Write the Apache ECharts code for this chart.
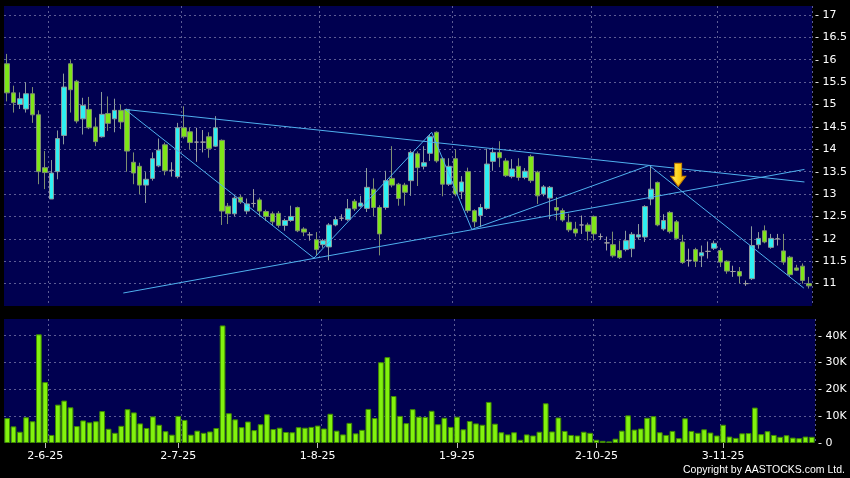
<!DOCTYPE html>
<html>
<head>
<meta charset="utf-8">
<title>日K线图</title>
<script src="https://cdn.jsdelivr.net/npm/echarts@6/dist/echarts.min.js"></script>
<style>
  html, body { margin: 0; padding: 0; background: #000; }
  #chart { width: 850px; height: 478px; }
</style>
</head>
<body>
<div id="chart"></div>
<script>
// 日K: [open, close, low, high]
const candles = [
  [15.91,15.26,15.07,16.13],[15.26,15.04,14.82,15.42],[15.00,15.13,14.90,15.27],[14.90,15.24,14.82,15.50],
  [15.24,14.77,14.59,15.39],[14.77,13.50,13.22,14.87],[13.59,13.48,13.11,13.96],[12.89,13.47,12.89,13.76],
  [13.50,14.24,13.33,14.42],[14.31,15.39,14.11,15.69],[15.91,15.33,14.82,15.99],[15.52,14.63,14.58,15.55],
  [14.68,14.98,14.33,15.15],[14.89,14.48,14.45,15.17],[14.50,14.17,14.07,14.71],[14.28,14.78,14.26,15.28],
  [14.80,14.58,14.41,15.18],[14.68,14.87,14.38,15.13],[14.87,14.61,14.45,15.00],[14.89,13.96,13.50,14.91],
  [13.71,13.47,13.22,13.93],[13.62,13.20,13.00,13.70],[13.20,13.33,12.80,13.49],[13.35,13.79,13.30,13.93],
  [13.63,13.98,13.60,14.24],[14.10,13.52,13.42,14.15],[13.53,13.53,13.39,13.71],[13.39,14.48,13.35,14.59],
  [14.48,14.28,14.24,14.96],[14.39,14.15,14.00,14.48],[14.16,14.16,13.72,14.48],[14.16,14.16,13.93,14.43],
  [14.28,14.02,13.81,14.38],[14.07,14.48,14.05,14.74],[14.20,12.62,12.31,14.22],[12.73,12.56,12.33,12.80],
  [12.56,12.91,12.50,12.95],[12.93,12.82,12.78,12.98],[12.62,12.78,12.55,12.90],[12.79,12.79,12.70,13.11],
  [12.87,12.62,12.50,12.92],[12.61,12.50,12.40,12.65],[12.56,12.38,12.30,12.61],[12.57,12.30,12.25,12.62],
  [12.30,12.41,12.18,12.45],[12.41,12.50,12.38,12.74],[12.70,12.18,12.15,12.72],[12.22,12.15,12.06,12.26],
  [12.09,12.09,11.96,12.15],[11.98,11.76,11.63,12.15],[11.87,11.96,11.80,12.00],[11.82,12.31,11.52,12.35],
  [12.31,12.43,12.28,12.50],[12.46,12.46,12.40,12.55],[12.43,12.67,12.40,12.89],[12.84,12.67,12.62,12.89],
  [12.73,12.80,12.70,12.96],[12.68,13.15,12.60,13.58],[13.11,12.70,12.50,13.35],[12.70,12.11,11.63,12.75],
  [12.70,13.30,12.65,13.52],[13.35,13.20,13.15,14.07],[13.22,12.90,12.74,13.25],[13.20,13.04,12.74,13.25],
  [13.30,13.93,12.96,13.97],[13.90,13.59,13.18,13.95],[13.62,13.70,13.55,14.07],[13.91,14.28,13.74,14.33],
  [14.38,13.74,13.70,14.40],[13.79,13.22,12.95,13.82],[13.22,13.62,13.18,13.80],[13.79,13.00,12.95,14.00],
  [13.05,13.27,12.89,13.40],[13.50,12.63,12.58,13.59],[12.63,12.38,12.26,12.66],[12.52,12.70,12.26,12.78],
  [12.68,13.67,12.65,14.01],[13.73,13.93,13.52,14.04],[13.93,13.81,13.60,14.18],[13.74,13.41,13.38,13.80],
  [13.39,13.56,13.35,13.78],[13.62,13.37,13.30,13.80],[13.37,13.51,13.33,13.58],[13.84,13.30,13.25,13.88],
  [13.49,12.96,12.78,13.52],[13.00,13.16,12.95,13.20],[12.91,13.15,12.44,13.18],[12.70,12.64,12.41,12.93],
  [12.63,12.42,12.38,12.68],[12.37,12.20,12.15,12.56],[12.22,12.13,12.05,12.38],[12.31,12.31,12.11,12.52],
  [12.31,12.17,11.96,12.36],[12.50,12.11,11.96,12.52],[12.05,12.05,11.98,12.12],[11.91,11.91,11.74,12.05],
  [11.87,11.62,11.58,12.16],[11.74,11.58,11.55,11.96],[11.76,11.96,11.72,12.18],[11.78,12.10,11.59,12.15],
  [12.04,12.09,11.98,12.33],[12.04,12.72,11.93,12.75],[12.89,13.11,12.75,13.63],[13.26,12.31,12.28,13.28],
  [12.22,12.41,12.18,12.55],[12.59,12.16,12.12,12.62],[12.38,12.01,11.98,12.42],[11.93,11.47,11.44,12.09],
  [11.52,11.52,11.38,11.78],[11.76,11.50,11.37,11.80],[11.62,11.69,11.37,11.85],[11.72,11.72,11.56,11.94],
  [11.79,11.90,11.75,11.96],[11.74,11.48,11.37,11.80],[11.50,11.28,11.22,11.52],[11.27,11.27,11.15,11.40],
  [11.27,11.17,11.00,11.37],[11.00,11.00,10.95,11.07],[11.11,11.85,11.08,12.28],[11.87,12.01,11.78,12.15],
  [12.18,11.93,11.90,12.30],[11.81,12.01,11.78,12.11],[12.00,12.00,11.85,12.11],[11.73,11.48,11.42,12.11],
  [11.59,11.20,11.15,11.62],[11.35,11.30,11.28,11.42],[11.39,11.07,11.00,11.45],[11.00,10.95,10.89,11.15]
];

// 成交量 (K)
const volumeK = [
  9.3, 6.2, 4.2, 9.6, 8.1, 40.5, 22.7, 3.0, 14.3, 15.8,
  13.3, 6.3, 8.4, 7.7, 8.1, 11.9, 5.3, 3.8, 6.4, 12.6,
  11.4, 7.3, 5.6, 9.9, 6.8, 4.4, 3.1, 10.1, 8.6, 3.1,
  4.6, 3.8, 4.3, 5.6, 43.8, 11.1, 8.8, 5.9, 8.0, 4.8,
  7.0, 10.7, 5.2, 5.7, 4.1, 4.0, 5.9, 5.7, 6.0, 6.5,
  5.4, 10.9, 4.6, 3.2, 7.5, 3.6, 4.9, 12.7, 9.3, 30.1,
  32.0, 17.5, 10.1, 7.4, 12.6, 9.8, 9.7,
  12.0, 7.0, 9.4, 6.0, 9.8, 5.1, 8.2, 7.3, 6.8, 15.3,
  7.2, 4.0, 3.2, 4.0, 1.2, 3.2, 2.8, 4.2, 14.8, 4.3,
  9.5, 4.5, 3.0, 2.8, 4.2, 3.8, 1.2, 0.8, 0.6, 1.6,
  4.6, 10.3, 5.0, 5.4, 9.4, 10.0, 4.0, 3.0, 4.5, 1.8,
  9.2, 4.5, 3.8, 5.1, 3.9, 2.8, 6.8, 2.4, 1.9, 3.6,
  3.7, 13.2, 3.3, 4.4, 3.0, 2.3, 2.9, 2.0, 1.8, 2.4, 2.3
];

// x轴日期标签 (第几根K线)
const tickIdx = [6, 27, 49, 71, 93, 113];
const tickText = ['2-6-25', '2-7-25', '1-8-25', '1-9-25', '2-10-25', '3-11-25'];
const gridIdx = [7, 28, 50, 71, 93, 113];

// 趋势线 [K线序号, 价格]
const upperLine = [[18.7, 14.89], [126.3, 13.27]];
const lowerLine = [[18.4, 10.79], [126.3, 13.55]];
const zigzag = [[18.7, 14.89], [48.6, 11.57], [67.25, 14.38], [73.6, 12.21], [101.7, 13.64], [126.2, 10.9]];
const arrowPt = [[106.3, 13.43]];

const cats = candles.map((_, i) => String(i));
const gridStyle = { color: '#5c5c94', type: [2, 3], width: 1 };
const lblFont = { color: '#ffffff', fontSize: 11, fontFamily: 'DejaVu Sans' };

let mychart = echarts.init(document.getElementById('chart'));
let options = {
  backgroundColor: '#000000',
  animation: false,
  grid: [
    { left: 4, top: 6, width: 811, height: 300, show: true, backgroundColor: '#000050', borderWidth: 0 },
    { left: 4, top: 319, width: 811, height: 124, show: true, backgroundColor: '#000050', borderWidth: 0 }
  ],
  xAxis: [
    {
      type: 'category', gridIndex: 0, data: cats, boundaryGap: true,
      axisLine: { show: false }, axisTick: { show: false }, axisLabel: { show: false },
      splitLine: { show: true, interval: (i) => gridIdx.includes(i), lineStyle: gridStyle }
    },
    {
      type: 'category', gridIndex: 1, data: cats, boundaryGap: true,
      axisLine: { show: false },
      axisTick: { show: true, alignWithLabel: true, length: 5, interval: (i) => tickIdx.includes(i), lineStyle: { color: '#bbbbbb' } },
      axisLabel: Object.assign({ interval: (i) => tickIdx.includes(i), margin: 8,
        formatter: (v, i) => { const k = tickIdx.indexOf(i); return k >= 0 ? tickText[k] : ''; } }, lblFont),
      splitLine: { show: true, interval: (i) => gridIdx.includes(i), lineStyle: gridStyle }
    },
    { type: 'value', gridIndex: 0, min: -0.5, max: candles.length - 0.5, show: false }
  ],
  yAxis: [
    {
      type: 'value', gridIndex: 0, position: 'right', min: 10.5, max: 17.2, interval: 0.5,
      axisLine: { show: false }, axisTick: { show: false },
      axisLabel: Object.assign({ margin: 3, formatter: (v) => (v >= 11 && v <= 17.01) ? '- ' + v : '' }, lblFont),
      splitLine: { show: true, showMinLine: false, showMaxLine: false, lineStyle: gridStyle }
    },
    {
      type: 'value', gridIndex: 1, position: 'right', min: 0, max: 46.2, interval: 10,
      axisLine: { show: false }, axisTick: { show: false },
      axisLabel: Object.assign({ margin: 3, formatter: (v) => v > 46 ? '' : '- ' + (v === 0 ? '0' : v + 'K') }, lblFont),
      splitLine: { show: true, showMinLine: false, showMaxLine: false, lineStyle: gridStyle }
    }
  ],
  graphic: [
    { type: 'text', right: 5, top: 465, style: { text: 'Copyright by AASTOCKS.com Ltd.', fill: '#ffffff', font: '10.5px "Liberation Sans"' } }
  ],
  series: [
    {
      name: 'K', type: 'candlestick', xAxisIndex: 0, yAxisIndex: 0, data: candles, barWidth: 5,
      itemStyle: { color: '#2ef0f2', color0: '#7ee618', borderColor: '#8c9a9c', borderColor0: '#7f8f70', borderColorDoji: '#a0a0a0', borderWidth: 1 }
    },
    {
      name: 'vol', type: 'bar', xAxisIndex: 1, yAxisIndex: 1, data: volumeK, barWidth: '90%',
      itemStyle: { color: '#82f20e', borderColor: '#3f8a00', borderWidth: 1 }
    },
    { type: 'line', xAxisIndex: 2, yAxisIndex: 0, data: upperLine, symbol: 'none', silent: true, z: 5, lineStyle: { color: '#4fb0ee', width: 1 } },
    { type: 'line', xAxisIndex: 2, yAxisIndex: 0, data: lowerLine, symbol: 'none', silent: true, z: 5, lineStyle: { color: '#4fb0ee', width: 1 } },
    { type: 'line', xAxisIndex: 2, yAxisIndex: 0, data: zigzag, symbol: 'none', silent: true, z: 5, lineStyle: { color: '#4fb0ee', width: 1 } },
    {
      type: 'scatter', xAxisIndex: 2, yAxisIndex: 0, data: arrowPt, silent: true, z: 6,
      symbol: 'path://M4,0 L11,0 L11,13 L15,13 L7.5,23 L0,13 L4,13 Z', symbolSize: [15, 23], symbolKeepAspect: false,
      itemStyle: {
        color: new echarts.graphic.LinearGradient(0, 0, 1, 0, [{ offset: 0, color: '#fff27a' }, { offset: 0.5, color: '#ffd21a' }, { offset: 1, color: '#f0a800' }]),
        borderColor: '#c88400', borderWidth: 1, opacity: 1
      }
    }
  ]
};
mychart.setOption(options);
</script>
</body>
</html>
